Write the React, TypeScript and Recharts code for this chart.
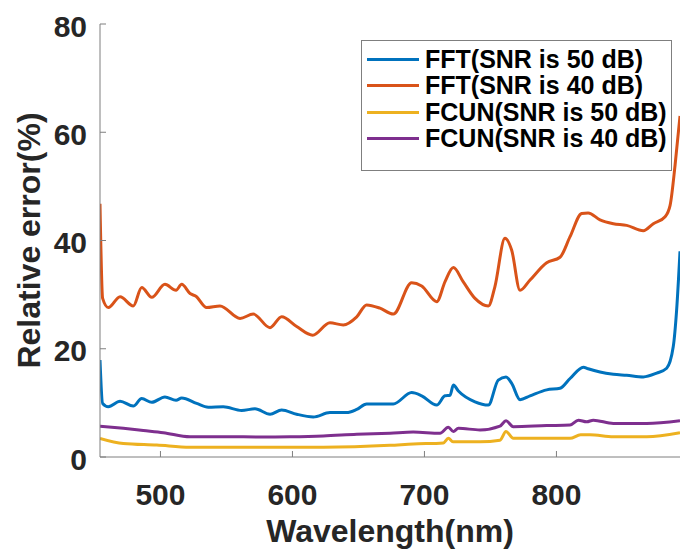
import React from 'react';
import { LineChart, Line, XAxis, YAxis, Legend } from 'recharts';

// wavelength (nm) / relative error (%) per method
const fft50Wl = [454.2, 456.2, 460.5, 469.4, 479.4, 485.8, 493.4, 503.4, 511.8, 516.1, 527.4, 536.2, 547.6, 561.5, 571.6, 583.0, 591.8, 603.2, 615.8, 628.4, 641.0, 648.7, 656.2, 666.3, 676.4, 690.3, 697.9, 709.3, 715.6, 719.4, 721.9, 725.7, 738.3, 748.4, 755.9, 761.8, 766.1, 772.4, 780.0, 792.6, 802.7, 810.3, 820.4, 824.0, 833.0, 843.1, 853.2, 865.8, 875.9, 883.5, 888.5, 891.0, 893.6];
const fft50Err = [17.9, 9.9, 9.3, 10.3, 9.4, 10.8, 10.1, 11.1, 10.5, 10.9, 9.9, 9.2, 9.3, 8.6, 8.9, 7.9, 8.7, 7.9, 7.4, 8.2, 8.2, 8.8, 9.8, 9.8, 9.8, 11.9, 11.3, 9.6, 11.3, 11.4, 13.3, 12.2, 10.2, 9.6, 14.2, 14.8, 13.6, 10.6, 11.3, 12.4, 12.7, 14.5, 16.6, 16.3, 15.7, 15.3, 15.1, 14.8, 15.5, 16.4, 20.4, 27.0, 38.0];

const fft40Wl = [454.2, 456.2, 460.5, 469.4, 479.4, 485.8, 493.4, 503.4, 511.8, 516.1, 522.4, 526.9, 535.0, 545.1, 560.3, 570.3, 583.0, 591.8, 603.2, 615.3, 628.4, 638.5, 648.7, 656.2, 666.3, 676.4, 690.3, 697.9, 709.3, 715.6, 721.9, 729.3, 738.3, 748.4, 753.3, 761.0, 766.1, 772.4, 780.0, 792.6, 802.7, 810.3, 819.1, 824.0, 833.0, 843.1, 853.2, 865.8, 873.4, 882.3, 886.1, 889.9, 893.6];
const fft40Err = [46.8, 29.3, 27.6, 29.6, 27.9, 31.3, 29.5, 31.9, 30.8, 31.9, 30.2, 29.7, 27.6, 27.9, 25.6, 26.4, 23.9, 25.9, 24.1, 22.5, 24.8, 24.4, 25.9, 28.1, 27.5, 26.4, 32.2, 31.6, 28.7, 32.4, 35.0, 32.4, 29.3, 27.9, 31.4, 40.4, 38.2, 30.8, 32.7, 35.9, 36.9, 40.7, 45.0, 45.1, 43.8, 43.1, 42.8, 41.8, 43.1, 44.4, 46.5, 54.0, 63.0];

const fcun50Wl = [454.2, 471.9, 497.2, 522.4, 573.0, 623.4, 673.9, 691.5, 714.3, 718.1, 721.6, 742.1, 757.2, 761.8, 767.3, 792.6, 810.3, 818.3, 825.4, 843.1, 868.4, 893.6];
const fcun50Err = [3.45, 2.5, 2.2, 1.8, 1.8, 1.8, 2.15, 2.4, 2.6, 3.45, 2.8, 2.8, 3.1, 4.7, 3.45, 3.45, 3.45, 4.1, 4.1, 3.75, 3.75, 4.5];

const fcun40Wl = [454.2, 471.9, 487.0, 502.2, 522.4, 547.6, 577.9, 598.1, 623.4, 648.7, 673.9, 691.5, 711.8, 718.1, 721.9, 725.7, 742.1, 757.2, 761.8, 767.3, 792.6, 810.3, 816.6, 822.9, 827.9, 843.1, 868.4, 893.6];
const fcun40Err = [5.7, 5.3, 4.9, 4.5, 3.75, 3.75, 3.7, 3.75, 3.9, 4.2, 4.4, 4.6, 4.4, 5.5, 4.7, 5.3, 5.0, 5.7, 6.7, 5.6, 5.8, 5.9, 6.8, 6.5, 6.8, 6.2, 6.2, 6.7];

const xTicks = [500, 600, 700, 800];
const yTicks = [0, 20, 40, 60, 80];

const series = [
  { name: 'FFT(SNR is 50 dB)', color: '#0072BD', wl: fft50Wl, err: fft50Err },
  { name: 'FFT(SNR is 40 dB)', color: '#D95319', wl: fft40Wl, err: fft40Err },
  { name: 'FCUN(SNR is 50 dB)', color: '#EDB120', wl: fcun50Wl, err: fcun50Err },
  { name: 'FCUN(SNR is 40 dB)', color: '#7E2F8E', wl: fcun40Wl, err: fcun40Err },
];

const toPoints = (wl: number[], err: number[]) => wl.map((w, i) => ({ wl: w, err: err[i] }));

const FONT = '"Liberation Sans", Arial, Helvetica, sans-serif';
const TEXT = '#262626';
const AXIS = '#7f7f7f';
const TICK_LEN = 6;
const MARGIN = 10;

const BottomTick = (props: any) => {
  const { x, y, payload } = props;
  const axisY = y - MARGIN;
  return (
    <g>
      <line x1={x} x2={x} y1={axisY} y2={axisY - TICK_LEN} stroke={AXIS} />
      <text x={x} y={axisY + 37} textAnchor="middle" dominantBaseline="central"
        fontFamily={FONT} fontWeight="bold" fontSize={30} fill={TEXT}>
        {payload.value}
      </text>
    </g>
  );
};

const TopTick = (props: any) => {
  const { x, y } = props;
  const axisY = y + MARGIN;
  return <line x1={x} x2={x} y1={axisY} y2={axisY + TICK_LEN} stroke={AXIS} />;
};

const LeftTick = (props: any) => {
  const { x, y, payload } = props;
  const axisX = x + MARGIN;
  return (
    <g>
      <line x1={axisX} x2={axisX + TICK_LEN} y1={y} y2={y} stroke={AXIS} />
      <text x={axisX - 13} y={y + 2} textAnchor="end" dominantBaseline="central"
        fontFamily={FONT} fontWeight="bold" fontSize={30} fill={TEXT}>
        {payload.value}
      </text>
    </g>
  );
};

const LegendBox = () => (
  <div style={{
    width: 311, height: 131, boxSizing: 'border-box', border: `1px solid ${AXIS}`,
    background: '#fff', paddingTop: 5, fontFamily: FONT, fontWeight: 'bold', fontSize: 25, color: '#000',
  }}>
    {series.map((s) => (
      <div key={s.name} style={{ display: 'flex', alignItems: 'center', height: 26.5, whiteSpace: 'nowrap' }}>
        <div style={{ width: 52, height: 3, background: s.color, marginLeft: 5, marginRight: 6 }} />
        <span>{s.name}</span>
      </div>
    ))}
  </div>
);

export default function App() {
  return (
    <div style={{ position: 'absolute', left: 0, top: 0, width: 680, height: 549, background: '#fff', overflow: 'hidden' }}>
      <LineChart width={680} height={549} margin={{ top: 24, right: 0, bottom: 0, left: 0 }}>
        <XAxis
          dataKey="wl" type="number" domain={[454.2, 893.6]} allowDataOverflow
          ticks={xTicks} height={92} tickSize={0} tickMargin={MARGIN}
          axisLine={{ stroke: AXIS }} tickLine={false} tick={BottomTick}
          label={{ value: 'Wavelength(nm)', position: 'insideBottom', offset: 7, fontFamily: FONT, fontWeight: 'bold', fontSize: 32, fill: TEXT }}
        />
        <XAxis
          xAxisId="top" orientation="top" dataKey="wl" type="number" domain={[454.2, 893.6]} allowDataOverflow
          ticks={xTicks} height={0} tickSize={0} tickMargin={MARGIN}
          axisLine={{ stroke: AXIS }} tickLine={false} tick={TopTick}
        />
        <YAxis
          type="number" domain={[0, 80]} ticks={yTicks} width={100} tickSize={0} tickMargin={MARGIN}
          axisLine={{ stroke: AXIS }} tickLine={false} tick={LeftTick}
          label={{ value: 'Relative error(%)', angle: -90, position: 'insideLeft', offset: 29, style: { textAnchor: 'middle' }, fontFamily: FONT, fontWeight: 'bold', fontSize: 32, fill: TEXT }}
        />
        <Legend layout="horizontal" verticalAlign="middle" align="center" content={LegendBox}
          wrapperStyle={{ position: 'absolute', left: 361, top: 40, width: 311 }} />
        {series.map((s) => (
          <Line key={s.name} data={toPoints(s.wl, s.err)} dataKey="err" name={s.name} type="monotone"
            stroke={s.color} strokeWidth={3} dot={false} activeDot={false} isAnimationActive={false} />
        ))}
      </LineChart>
    </div>
  );
}
